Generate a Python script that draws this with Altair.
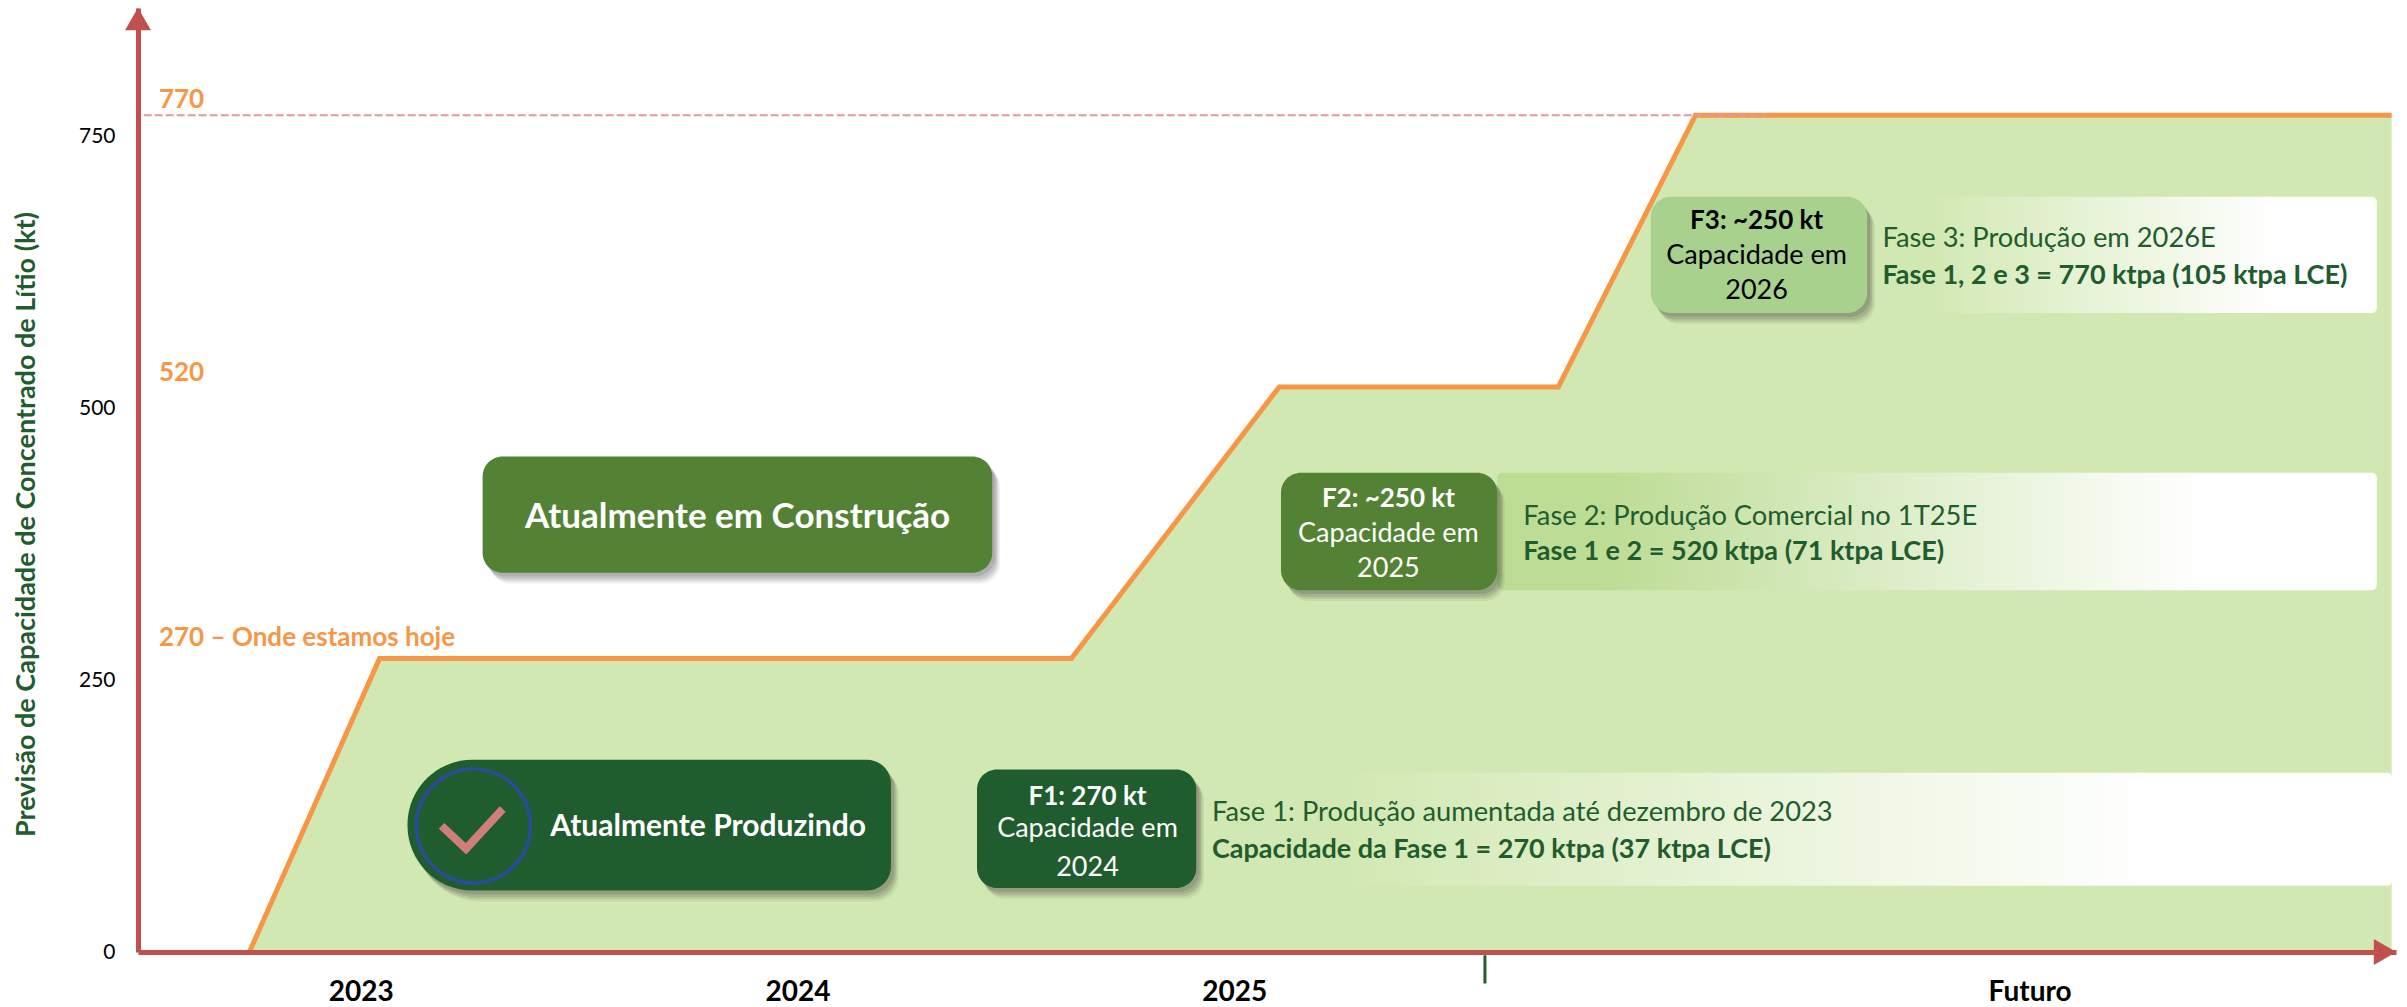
import altair as alt
import pandas as pd

FONT = "Lato"
RED = "#C0504D"
ORANGE = "#F79646"
DARK = "#1F5C2E"
MID = "#548235"
LIGHT = "#A9D18E"
FILL = "#D2E8B2"

# Capacity timeline (x = years, y = kt)
step_x = [2022.745, 2023.043, 2024.627, 2025.103, 2025.742, 2026.056, 2027.65]
step_y = [0, 270, 270, 520, 520, 770, 770]

y_ticks = [0, 250, 500, 750]
x_ticks = [2023, 2024, 2025, 2026.821]
x_tick_labels = ["2023", "2024", "2025", "Futuro"]
x_min, x_max = 2022.49, 2027.66
y_min, y_max = 0, 868.7

# Boxes
box_names = ["Construção", "Produzindo", "F1", "F2", "F3"]
box_x0 = [2023.279, 2023.107, 2024.411, 2025.107, 2025.954]
box_x1 = [2024.446, 2024.214, 2024.913, 2025.602, 2026.449]
box_y0 = [349, 56.5, 59, 333, 588]
box_y1 = [456, 177, 168, 441, 695]
box_fill = [MID, DARK, DARK, MID, LIGHT]

# Gradient panels
panel_x0 = [2024.913, 2025.602, 2026.449]
panel_x1 = [2027.651, 2027.616, 2027.616]
panel_y0 = [61, 333, 588]
panel_y1 = [165, 441, 695]
panel_start = ["#D2E8B2", "#BDDC94", "#D2E8B2"]

# Text
bold_center = [
    ("Atualmente em Construção", 2023.863, 401, 35, "white"),
    ("F1: 270 kt", 2024.664, 144, 26, "white"),
    ("F2: ~250 kt", 2025.353, 418, 26, "white"),
    ("F3: ~250 kt", 2026.196, 674, 26, "black"),
]
normal_center = [
    ("Capacidade em", 2024.664, 114, 27, "white"),
    ("2024", 2024.664, 78, 27, "white"),
    ("Capacidade em", 2025.353, 386, 27, "white"),
    ("2025", 2025.353, 353, 27, "white"),
    ("Capacidade em", 2026.196, 641, 27, "black"),
    ("2026", 2026.196, 609, 27, "black"),
]
bold_left = [
    ("Atualmente Produzindo", 2023.434, 116, 30, "white"),
    ("Capacidade da Fase 1 = 270 ktpa (37 ktpa LCE)", 2024.949, 94.6, 27, DARK),
    ("Fase 1 e 2 = 520 ktpa (71 ktpa LCE)", 2025.662, 369, 27, DARK),
    ("Fase 1, 2 e 3 = 770 ktpa (105 ktpa LCE)", 2026.484, 623, 27, DARK),
    ("770", 2022.538, 785, 26, ORANGE),
    ("520", 2022.538, 534, 26, ORANGE),
    ("270 – Onde estamos hoje", 2022.538, 290, 26, ORANGE),
]
normal_left = [
    ("Fase 1: Produção aumentada até dezembro de 2023", 2024.949, 128.5, 27.3, DARK),
    ("Fase 2: Produção Comercial no 1T25E", 2025.662, 401, 27.3, DARK),
    ("Fase 3: Produção em 2026E", 2026.484, 657, 27.3, DARK),
]

check_x = [2023.185, 2023.241, 2023.325]
check_y = [116, 95, 131.6]

xs = alt.Scale(domain=[x_min, x_max], nice=False, zero=False)
ys = alt.Scale(domain=[y_min, y_max], nice=False, zero=False)

label_expr = " : ".join(
    f"datum.value == {v} ? '{l}'" for v, l in zip(x_ticks, x_tick_labels)
) + " : ''"

X_AXIS = alt.Axis(
    values=x_ticks, labelExpr=label_expr, grid=False, ticks=False,
    domainColor=RED, domainWidth=5, labelFont=FONT, labelFontSize=28,
    labelFontWeight="bold", labelColor="black", labelPadding=26,
    labelFlush=False, labelOverlap=False, zindex=1,
)
Y_TITLE = "Previsão de Capacidade de Concentrado de Lítio (kt)"
Y_AXIS = alt.Axis(
    values=y_ticks, grid=False, ticks=False, domainColor=RED, domainWidth=5,
    labelFont=FONT, labelFontSize=21, labelColor="black", labelPadding=23,
    titleFont=FONT, titleFontSize=27, titleFontWeight="bold", titleColor=DARK,
    titleX=-112, titleY=516, titleAngle=270, titleAlign="center",
    titleBaseline="middle", zindex=1,
)


def X(f):
    return alt.X(f, type="quantitative", scale=xs, axis=X_AXIS, title=None)


def Y(f):
    return alt.Y(f, type="quantitative", scale=ys, axis=Y_AXIS, title=Y_TITLE)


steps = pd.DataFrame({"x": step_x, "y": step_y})

area = alt.Chart(steps).mark_area(color=FILL).encode(x=X("x"), y=Y("y"))
line = alt.Chart(steps).mark_line(color=ORANGE, strokeWidth=5).encode(x=X("x"), y=Y("y"))

layers = [area]

panels = []
for i in range(3):
    d = pd.DataFrame({"x": [panel_x0[i]], "x1": [panel_x1[i]], "y": [panel_y0[i]], "y1": [panel_y1[i]]})
    grad = alt.LinearGradient(
        gradient="linear", x1=0, x2=1, y1=0, y2=0,
        stops=[
            alt.GradientStop(color=panel_start[i], offset=0),
            alt.GradientStop(color=panel_start[i], offset=0.12),
            alt.GradientStop(color="#FFFFFF", offset=0.8),
            alt.GradientStop(color="#FFFFFF", offset=1),
        ],
    )
    panels.append(
        alt.Chart(d).mark_rect(fill=grad, cornerRadius=5).encode(
            x=X("x"), x2=alt.X2("x1"), y=Y("y"), y2=alt.Y2("y1")
        )
    )
layers += panels

boxes = pd.DataFrame({
    "name": box_names, "x": box_x0, "x1": box_x1, "y": box_y0, "y1": box_y1, "fill": box_fill,
})
regular = boxes[boxes["name"] != "Produzindo"]
pill = boxes[boxes["name"] == "Produzindo"]

shadow_offsets = [(0.018, -10, 0.07), (0.014, -8, 0.10), (0.011, -6, 0.12), (0.007, -3.5, 0.14)]
for dx, dy, op in shadow_offsets:
    s = regular.assign(x=regular["x"] + dx, x1=regular["x1"] + dx, y=regular["y"] + dy, y1=regular["y1"] + dy)
    layers.append(
        alt.Chart(s).mark_rect(color="#2B2B2B", opacity=op, cornerRadius=20).encode(
            x=X("x"), x2=alt.X2("x1"), y=Y("y"), y2=alt.Y2("y1")
        )
    )
    p = pill.assign(x=pill["x"] + dx, x1=pill["x1"] + dx, y=pill["y"] + dy, y1=pill["y1"] + dy)
    layers.append(
        alt.Chart(p).mark_rect(
            color="#2B2B2B", opacity=op, cornerRadiusTopLeft=65, cornerRadiusBottomLeft=65,
            cornerRadiusTopRight=24, cornerRadiusBottomRight=24,
        ).encode(x=X("x"), x2=alt.X2("x1"), y=Y("y"), y2=alt.Y2("y1"))
    )

layers.append(
    alt.Chart(regular).mark_rect(cornerRadius=20).encode(
        x=X("x"), x2=alt.X2("x1"), y=Y("y"), y2=alt.Y2("y1"),
        fill=alt.Fill("fill:N", scale=None),
    )
)
layers.append(
    alt.Chart(pill).mark_rect(
        cornerRadiusTopLeft=65, cornerRadiusBottomLeft=65,
        cornerRadiusTopRight=24, cornerRadiusBottomRight=24,
    ).encode(
        x=X("x"), x2=alt.X2("x1"), y=Y("y"), y2=alt.Y2("y1"),
        fill=alt.Fill("fill:N", scale=None),
    )
)

layers.append(line)

# Dashed 770 reference
dash = pd.DataFrame({"x": [2022.503], "x1": [2026.217], "y": [770]})
layers.append(
    alt.Chart(dash).mark_rule(color="#E39B96", strokeDash=[8, 3], strokeWidth=2).encode(
        x=X("x"), x2=alt.X2("x1"), y=Y("y")
    )
)

# Check badge
badge = pd.DataFrame({"x": [2023.258], "y": [116]})
layers.append(
    alt.Chart(badge).mark_point(
        shape="circle", size=12996, filled=False, stroke="#2A4D8F", strokeWidth=4, opacity=1
    ).encode(x=X("x"), y=Y("y"))
)
check = pd.DataFrame({"x": check_x, "y": check_y, "o": [0, 1, 2]})
layers.append(
    alt.Chart(check).mark_line(color="#CF7F7A", strokeWidth=8, strokeCap="butt", strokeJoin="miter").encode(
        x=X("x"), y=Y("y"), order="o:Q"
    )
)


def text_layer(rows, weight, align):
    d = pd.DataFrame(rows, columns=["t", "x", "y", "s", "c"])
    return alt.Chart(d).mark_text(
        font=FONT, fontWeight=weight, align=align, baseline="middle", dy=1
    ).encode(
        x=X("x"), y=Y("y"), text="t:N",
        size=alt.Size("s:Q", scale=None, legend=None),
        color=alt.Color("c:N", scale=None, legend=None),
    )


layers += [
    text_layer(bold_center, "bold", "center"),
    text_layer(normal_center, "normal", "center"),
    text_layer(bold_left, "bold", "left"),
    text_layer(normal_left, "normal", "left"),
]

# Divider tick under the axis
divider = pd.DataFrame({"x": [2025.574], "y": [-3], "y1": [-29]})
layers.append(
    alt.Chart(divider).mark_rule(color=DARK, strokeWidth=3).encode(
        x=X("x"), y=Y("y"), y2=alt.Y2("y1")
    )
)

# Axis arrowheads
arrow_up = pd.DataFrame({"x": [x_min], "y": [858.6]})
arrow_right = pd.DataFrame({"x": [2027.635], "y": [0]})
layers.append(
    alt.Chart(arrow_up).mark_point(shape="triangle-up", size=676, filled=True, color=RED, opacity=1).encode(
        x=X("x"), y=Y("y")
    )
)
layers.append(
    alt.Chart(arrow_right).mark_point(shape="triangle-right", size=676, filled=True, color=RED, opacity=1).encode(
        x=X("x"), y=Y("y")
    )
)

chart = alt.layer(*layers).properties(
    width=2258,
    height=944,
    autosize=alt.AutoSizeParams(type="none"),
    padding={"left": 130, "top": 0, "right": 2, "bottom": 55},
    background="white",
).configure_view(stroke=None)

chart.save("out.html", embed_options={"renderer": "svg", "actions": False})
